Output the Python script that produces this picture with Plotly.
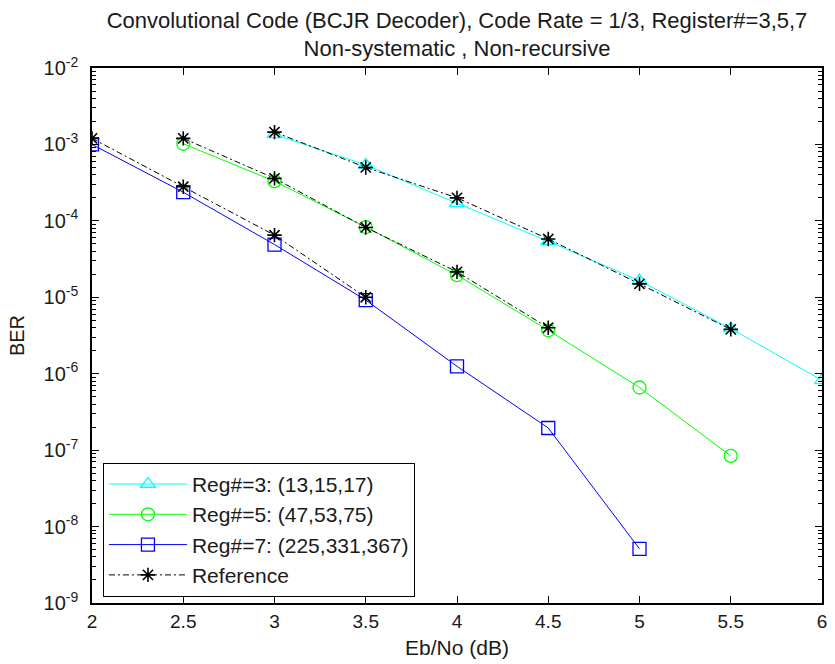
import plotly.graph_objects as go

# Eb/No grid (dB) for each code
ebno_reg3 = [3.0, 3.5, 4.0, 4.5, 5.0, 5.5, 6.0]
ebno_reg5 = [2.5, 3.0, 3.5, 4.0, 4.5, 5.0, 5.5]
ebno_reg7 = [2.0, 2.5, 3.0, 3.5, 4.0, 4.5, 5.0]

# Simulated BER
ber_reg3 = [1.35e-3, 5.4e-4, 1.7e-4, 5.4e-5, 1.65e-5, 3.9e-6, 8.2e-7]
ber_reg5 = [1.02e-3, 3.3e-4, 8.3e-5, 1.95e-5, 3.7e-6, 6.6e-7, 8.4e-8]
ber_reg7 = [1.0e-3, 2.37e-4, 4.9e-5, 9.2e-6, 1.25e-6, 1.95e-7, 5.1e-9]

# Reference curves
ref_ebno_reg3 = [3.0, 3.5, 4.0, 4.5, 5.0, 5.5]
ref_ber_reg3 = [1.45e-3, 5.0e-4, 2.0e-4, 5.8e-5, 1.5e-5, 3.8e-6]
ref_ebno_reg5 = [2.5, 3.0, 3.5, 4.0, 4.5]
ref_ber_reg5 = [1.2e-3, 3.6e-4, 8.2e-5, 2.15e-5, 4.0e-6]
ref_ebno_reg7 = [2.0, 2.5, 3.0, 3.5]
ref_ber_reg7 = [1.2e-3, 2.8e-4, 6.5e-5, 1.0e-5]

series_names = ["Reg#=3: (13,15,17)", "Reg#=5: (47,53,75)", "Reg#=7: (225,331,367)"]
x_ticks = [2, 2.5, 3, 3.5, 4, 4.5, 5, 5.5, 6]
x_tick_text = ["2", "2.5", "3", "3.5", "4", "4.5", "5", "5.5", "6"]
y_exponents = [-9, -8, -7, -6, -5, -4, -3, -2]

FONT = "Liberation Sans, Arial, sans-serif"
TEXT = "#1a1a1a"

fig = go.Figure()

styles = [
    ("#00FFFF", "triangle-up-open"),
    ("#00FF00", "circle-open"),
    ("#0000FF", "square-open"),
]
for (xs, ys, name, (color, symbol)) in zip(
    [ebno_reg3, ebno_reg5, ebno_reg7],
    [ber_reg3, ber_reg5, ber_reg7],
    series_names,
    styles,
):
    fig.add_trace(go.Scatter(
        x=xs, y=ys, name=name, mode="lines+markers",
        line=dict(color=color, width=1),
        marker=dict(symbol=symbol, size=13, color=color, line=dict(color=color, width=1.3)),
    ))

for i, (xs, ys) in enumerate([(ref_ebno_reg3, ref_ber_reg3),
                              (ref_ebno_reg5, ref_ber_reg5),
                              (ref_ebno_reg7, ref_ber_reg7)]):
    fig.add_trace(go.Scatter(
        x=xs, y=ys, name="Reference", mode="lines+markers",
        legendgroup="ref", showlegend=(i == 0),
        line=dict(color="black", width=1, dash="6px,3px,2px,3px"),
        marker=dict(symbol="asterisk-open", size=12, color="black",
                    line=dict(color="black", width=1.6)),
    ))

# minor log ticks: 2..9 within every decade
minor_vals = [m * 10.0 ** e for e in y_exponents[:-1] for m in range(2, 10)]

fig.update_layout(
    width=835, height=664,
    margin=dict(l=92, r=8, t=68, b=61),
    paper_bgcolor="white", plot_bgcolor="white",
    font=dict(family=FONT, size=18, color=TEXT),
    title=dict(
        text="Convolutional Code (BCJR Decoder), Code Rate = 1/3, Register#=3,5,7<br>Non-systematic , Non-recursive",
        x=0.5, xref="paper", xanchor="center",
        y=0.958, yref="container", yanchor="top",
        font=dict(family=FONT, size=22, color=TEXT),
    ),
    showlegend=True,
    legend=dict(
        x=0.015, y=0.262, xanchor="left", yanchor="top",
        bordercolor="black", borderwidth=1, bgcolor="white",
        font=dict(family=FONT, size=21, color=TEXT),
        itemwidth=78, tracegroupgap=0,
    ),
)

fig.update_xaxes(
    range=[2, 6], tickvals=x_ticks, ticktext=x_tick_text,
    ticks="inside", ticklen=7, tickcolor="black", tickwidth=1,
    showline=True, linecolor="black", linewidth=1.5, mirror="ticks",
    showgrid=False, zeroline=False,
    title=dict(text="Eb/No (dB)", standoff=10, font=dict(family=FONT, size=21)),
    tickfont=dict(family=FONT, size=19),
)

fig.update_yaxes(
    type="log", range=[-9, -2],
    tickvals=[10.0 ** e for e in y_exponents],
    ticktext=["10<sup>%d</sup>" % e for e in y_exponents],
    ticks="inside", ticklen=7, tickcolor="black", tickwidth=1,
    minor=dict(ticks="inside", ticklen=4, tickcolor="black", tickwidth=1,
               tickvals=minor_vals, showgrid=False),
    showline=True, linecolor="black", linewidth=1.5, mirror="ticks",
    showgrid=False, zeroline=False,
    ticklabelstandoff=8,
    title=dict(text="BER", standoff=14, font=dict(family=FONT, size=20)),
    tickfont=dict(family=FONT, size=20),
)

fig.write_html("out.html")
